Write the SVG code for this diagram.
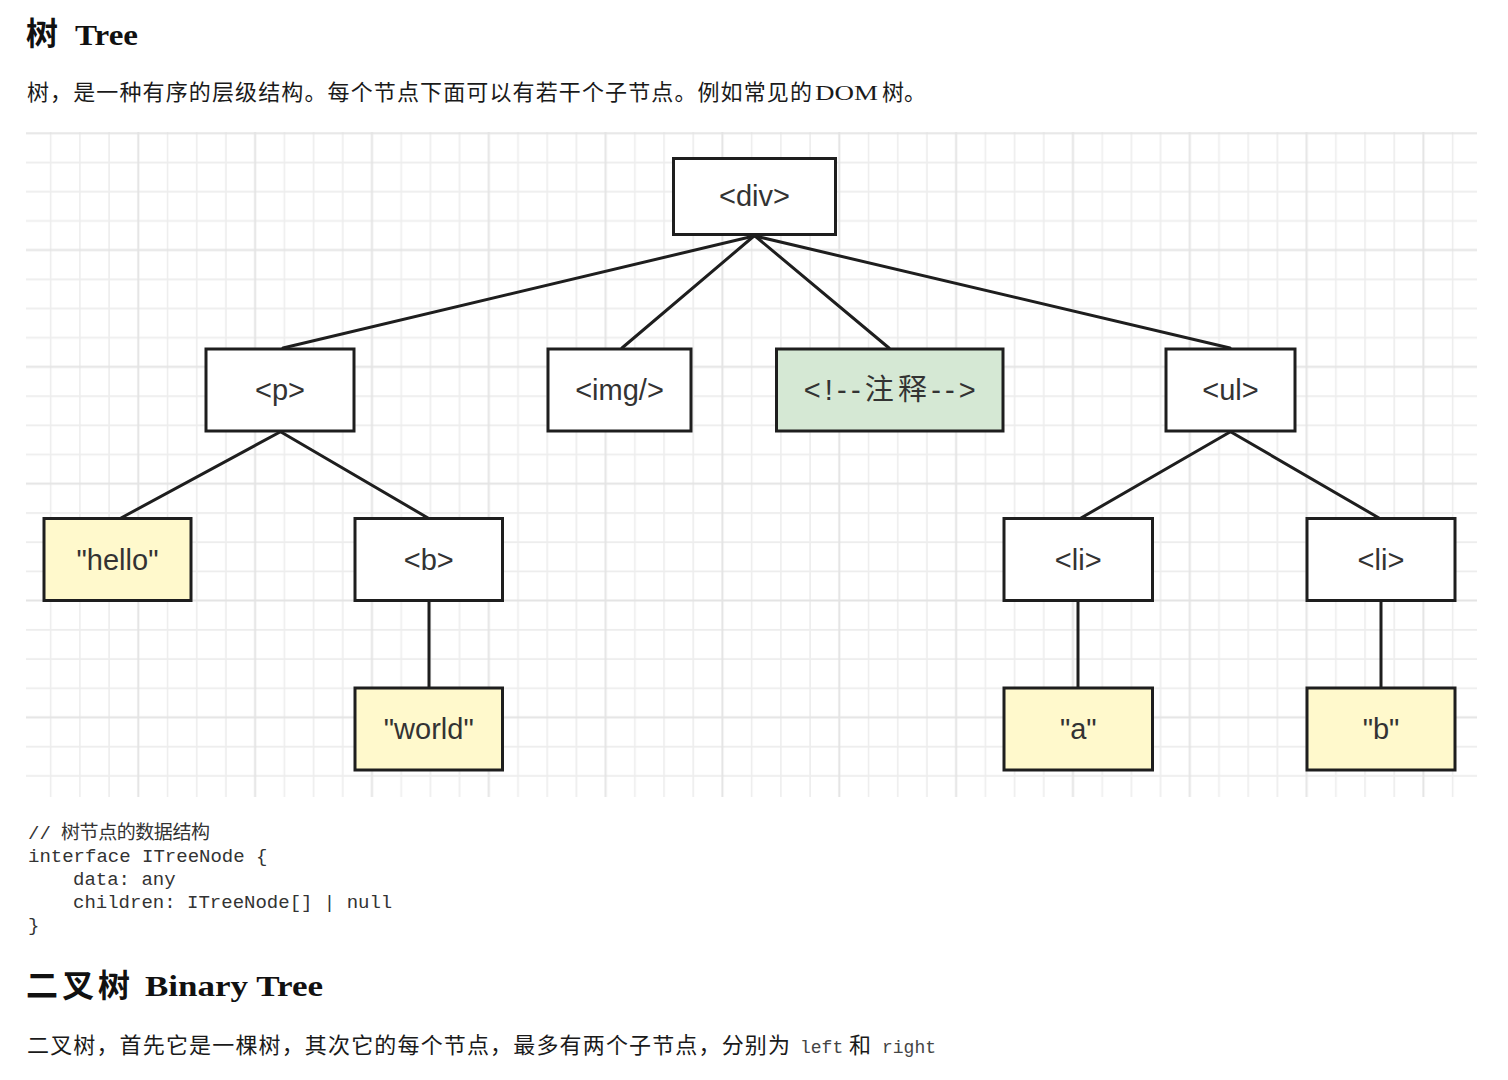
<svg xmlns="http://www.w3.org/2000/svg" width="1508" height="1080" viewBox="0 0 1508 1080">
  <style>
    .h { font-family: "Liberation Serif", "Noto Sans CJK SC", serif; font-weight: bold; font-size: 30px; fill: #111; }
    .hc { font-family: "Noto Sans CJK SC", sans-serif; font-weight: bold; font-size: 32px; fill: #111; }
    .p { font-family: "Liberation Serif", "Noto Sans CJK SC", serif; font-size: 22px; fill: #1a1a1a; }
    .code { font-family: "Liberation Mono", "Noto Sans CJK SC", monospace; font-size: 19px; fill: #333; white-space: pre; }
    .inl { font-family: "Liberation Mono", monospace; font-size: 18px; fill: #444; }
    .box { stroke: #1e1e1e; stroke-width: 3; fill: #ffffff; }
    .leaf { fill: #fff9cc; }
    .note { fill: #d5e8d4; }
    .lbl { font-family: "Liberation Sans", "Noto Sans CJK SC", sans-serif; font-size: 29px; fill: #333; text-anchor: middle; }
    .edge { stroke: #1e1e1e; stroke-width: 3; fill: none; stroke-linecap: round; }
  </style>
  <defs>
    <!-- 4x4 cell grid tile: light minor lines, slightly darker major line -->
    <pattern id="grid" patternUnits="userSpaceOnUse" x="36.1" y="118.7" width="116.833" height="116.833">
      <g stroke="#ededed" stroke-width="1.6">
        <line x1="14.6" y1="0" x2="14.6" y2="116.833"/>
        <line x1="43.8" y1="0" x2="43.8" y2="116.833"/>
        <line x1="73.0" y1="0" x2="73.0" y2="116.833"/>
        <line x1="0" y1="43.8" x2="116.833" y2="43.8"/>
        <line x1="0" y1="73.0" x2="116.833" y2="73.0"/>
        <line x1="0" y1="102.2" x2="116.833" y2="102.2"/>
      </g>
      <g stroke="#e4e4e4" stroke-width="2">
        <line x1="102.2" y1="0" x2="102.2" y2="116.833"/>
        <line x1="0" y1="14.6" x2="116.833" y2="14.6"/>
      </g>
    </pattern>
  </defs>

  <rect width="1508" height="1080" fill="#ffffff"/>

  <!-- heading and intro -->
  <text class="hc" x="26" y="45">树</text>
  <text class="h" x="75" y="45" textLength="63" lengthAdjust="spacingAndGlyphs">Tree</text>
  <text class="p" x="27" y="100" textLength="785" lengthAdjust="spacing">树，是一种有序的层级结构。每个节点下面可以有若干个子节点。例如常见的</text>
  <text class="p" x="815" y="100" textLength="63" lengthAdjust="spacingAndGlyphs">DOM</text>
  <text class="p" x="882" y="100" textLength="44" lengthAdjust="spacing">树。</text>

  <!-- grid background -->
  <rect x="26" y="132" width="1451" height="665" fill="url(#grid)"/>

  <!-- connectors -->
  <g id="edges">
    <line class="edge" x1="754" y1="236" x2="283" y2="348"/>
    <line class="edge" x1="754" y1="236" x2="622" y2="348"/>
    <line class="edge" x1="755" y1="236" x2="889" y2="348"/>
    <line class="edge" x1="755" y1="236" x2="1230" y2="348"/>
    <line class="edge" x1="280" y1="432" x2="121" y2="518"/>
    <line class="edge" x1="281" y1="432" x2="428" y2="518"/>
    <line class="edge" x1="1230" y1="432" x2="1081" y2="518"/>
    <line class="edge" x1="1231" y1="432" x2="1379" y2="518"/>
    <line class="edge" x1="429" y1="602" x2="429" y2="688"/>
    <line class="edge" x1="1078" y1="602" x2="1078" y2="688"/>
    <line class="edge" x1="1381" y1="602" x2="1381" y2="688"/>
  </g>

  <!-- nodes -->
  <g id="node-div">
    <rect class="box" x="673.5" y="158.5" width="162" height="76"/>
    <text class="lbl" x="754.5" y="206">&lt;div&gt;</text>
  </g>
  <g id="node-p">
    <rect class="box" x="206" y="349" width="148" height="82"/>
    <text class="lbl" x="280" y="400">&lt;p&gt;</text>
  </g>
  <g id="node-img">
    <rect class="box" x="548" y="349" width="143" height="82"/>
    <text class="lbl" x="619.5" y="400">&lt;img/&gt;</text>
  </g>
  <g id="node-comment">
    <rect class="box note" x="776.5" y="349" width="226.5" height="82"/>
    <text class="lbl" x="889.75" y="400" textLength="172" lengthAdjust="spacing">&lt;!--注释--&gt;</text>
  </g>
  <g id="node-ul">
    <rect class="box" x="1166" y="349" width="129" height="82"/>
    <text class="lbl" x="1230.5" y="400">&lt;ul&gt;</text>
  </g>
  <g id="node-hello">
    <rect class="box leaf" x="44" y="518.5" width="147" height="82"/>
    <text class="lbl" x="117.5" y="569.5">"hello"</text>
  </g>
  <g id="node-b">
    <rect class="box" x="355" y="518.5" width="147.5" height="82"/>
    <text class="lbl" x="428.75" y="569.5">&lt;b&gt;</text>
  </g>
  <g id="node-world">
    <rect class="box leaf" x="355" y="688" width="147.5" height="82"/>
    <text class="lbl" x="428.75" y="739">"world"</text>
  </g>
  <g id="node-li1">
    <rect class="box" x="1004" y="518.5" width="148.5" height="82"/>
    <text class="lbl" x="1078.25" y="569.5">&lt;li&gt;</text>
  </g>
  <g id="node-li2">
    <rect class="box" x="1307" y="518.5" width="148" height="82"/>
    <text class="lbl" x="1381" y="569.5">&lt;li&gt;</text>
  </g>
  <g id="node-a">
    <rect class="box leaf" x="1004" y="688" width="148.5" height="82"/>
    <text class="lbl" x="1078.25" y="739">"a"</text>
  </g>
  <g id="node-b-text">
    <rect class="box leaf" x="1307" y="688" width="148" height="82"/>
    <text class="lbl" x="1381" y="739">"b"</text>
  </g>

  <!-- code listing -->
  <text class="code" x="28" y="839">//</text>
  <text class="code" x="61" y="839" font-size="18" textLength="149" lengthAdjust="spacing">树节点的数据结构</text>
  <text class="code" x="28" y="862">interface ITreeNode {</text>
  <text class="code" x="73" y="885">data: any</text>
  <text class="code" x="73" y="908">children: ITreeNode[] | null</text>
  <text class="code" x="28" y="931">}</text>

  <!-- second heading -->
  <text class="hc" x="26" y="997" textLength="104" lengthAdjust="spacing">二叉树</text>
  <text class="h" x="145" y="996" textLength="178" lengthAdjust="spacingAndGlyphs">Binary Tree</text>
  <text class="p" x="27" y="1053" textLength="763" lengthAdjust="spacing">二叉树，首先它是一棵树，其次它的每个节点，最多有两个子节点，分别为</text>
  <text class="inl" x="800" y="1053">left</text>
  <text class="p" x="849" y="1053">和</text>
  <text class="inl" x="882" y="1053">right</text>
</svg>
